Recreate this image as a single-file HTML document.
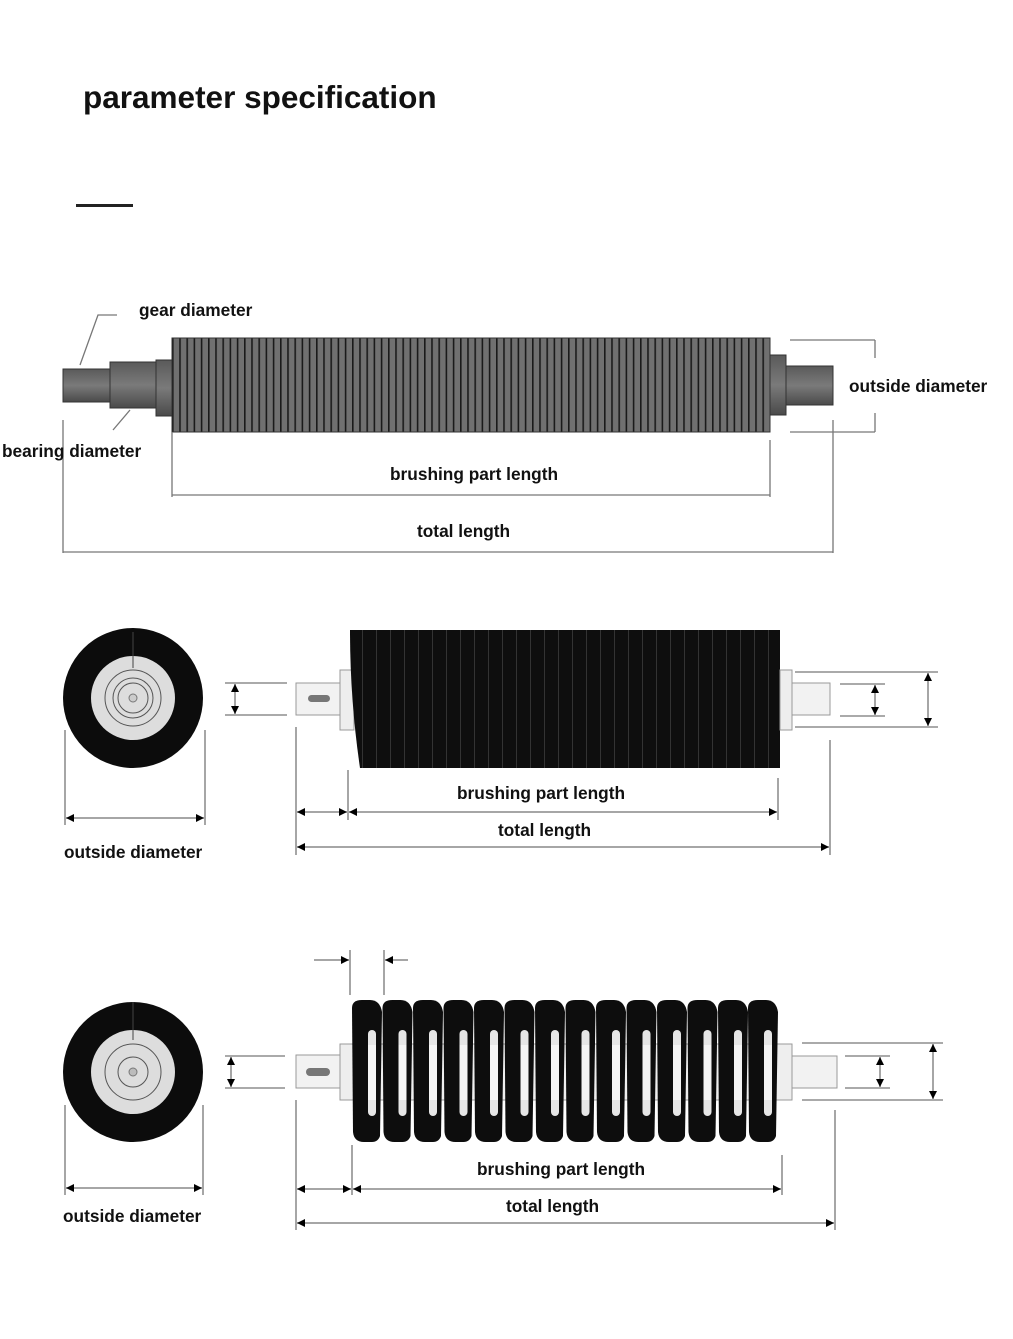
<!DOCTYPE html>
<html><head><meta charset="utf-8"><style>
html,body{margin:0;padding:0;background:#fff}
svg{display:block}
text{font-family:"Liberation Sans",sans-serif;font-weight:bold;fill:#111}
</style></head><body>
<svg width="1013" height="1339" viewBox="0 0 1013 1339" xmlns="http://www.w3.org/2000/svg">
<defs>
<marker id="a" viewBox="0 0 10 10" refX="10" refY="5" markerWidth="10" markerHeight="8" orient="auto-start-reverse" markerUnits="userSpaceOnUse"><path d="M0,0L10,5L0,10z" fill="#000"/></marker>
<pattern id="st" x="172" y="0" width="7.2" height="10" patternUnits="userSpaceOnUse"><rect width="7.2" height="10" fill="#707070"/><rect x="0" width="1.6" height="10" fill="#1a1a1a"/></pattern>
<pattern id="st2" x="348" y="0" width="14" height="10" patternUnits="userSpaceOnUse"><rect width="14" height="10" fill="#0e0e0e"/><rect x="0" width="1" height="10" fill="#333"/></pattern>
<linearGradient id="sh" x1="0" y1="0" x2="0" y2="1"><stop offset="0" stop-color="#5a5a5a"/><stop offset=".5" stop-color="#7a7a7a"/><stop offset="1" stop-color="#4a4a4a"/></linearGradient>
</defs>
<text x="83" y="108" font-size="31.5">parameter specification</text>
<rect x="76" y="204" width="57" height="3" fill="#222"/>

<!-- TOP roller -->
<g stroke="#333" stroke-width="1">
<rect x="63" y="369" width="50" height="33" fill="url(#sh)"/>
<rect x="110" y="362" width="48" height="46" fill="url(#sh)"/>
<rect x="156" y="360" width="16" height="56" fill="url(#sh)"/>
<rect x="172" y="338" width="598" height="94" fill="url(#st)"/>
<rect x="770" y="355" width="16" height="60" fill="url(#sh)"/>
<rect x="786" y="366" width="47" height="39" fill="url(#sh)"/>
</g>
<g stroke="#777" stroke-width="1.3" fill="none">
<path d="M80,365 L98,315 L117,315"/>
<path d="M113,430 L130,410"/>
<line x1="63" y1="420" x2="63" y2="553"/>
<line x1="172" y1="432" x2="172" y2="497"/>
<line x1="770" y1="440" x2="770" y2="497"/>
<line x1="833" y1="420" x2="833" y2="553"/>
<line x1="172" y1="495" x2="770" y2="495"/>
<line x1="63" y1="552" x2="833" y2="552"/>
<line x1="790" y1="340" x2="875" y2="340"/>
<line x1="790" y1="432" x2="875" y2="432"/>
<line x1="875" y1="340" x2="875" y2="358"/>
<line x1="875" y1="413" x2="875" y2="432"/>
</g>
<text x="139" y="316" font-size="17.3">gear diameter</text>
<text x="2" y="457" font-size="17.3">bearing diameter</text>
<text x="849" y="392" font-size="17.3">outside diameter</text>
<text x="390" y="480" font-size="17.3">brushing part length</text>
<text x="417" y="537" font-size="17.3">total length</text>

<!-- MIDDLE -->
<circle cx="133" cy="698" r="70" fill="#0c0c0c"/>
<circle cx="133" cy="698" r="42" fill="#ddd"/>
<g fill="none" stroke="#555" stroke-width="1"><circle cx="133" cy="698" r="28"/><circle cx="133" cy="698" r="20"/><circle cx="133" cy="698" r="15"/></g>
<circle cx="133" cy="698" r="4" fill="#ccc" stroke="#777"/>
<line x1="133" y1="632" x2="133" y2="668" stroke="#444"/>
<rect x="296" y="683" width="48" height="32" fill="#f2f2f2" stroke="#999"/>
<rect x="308" y="695" width="22" height="7" rx="3.5" fill="#777"/>
<rect x="340" y="670" width="14" height="60" fill="#eee" stroke="#999"/>
<path d="M350,630 L780,630 L780,768 L360,768 Q350,700 350,630z" fill="url(#st2)"/>
<rect x="780" y="670" width="12" height="60" fill="#eee" stroke="#999"/>
<rect x="792" y="683" width="38" height="32" fill="#f2f2f2" stroke="#999"/>
<g stroke="#777" stroke-width="1.3" fill="none">
<line x1="225" y1="683" x2="287" y2="683"/><line x1="225" y1="715" x2="287" y2="715"/>
<line x1="840" y1="684" x2="885" y2="684"/><line x1="840" y1="716" x2="885" y2="716"/>
<line x1="795" y1="672" x2="938" y2="672"/><line x1="795" y1="727" x2="938" y2="727"/>
<line x1="296" y1="727" x2="296" y2="855"/>
<line x1="348" y1="770" x2="348" y2="820"/>
<line x1="778" y1="778" x2="778" y2="820"/>
<line x1="830" y1="740" x2="830" y2="855"/>
<line x1="65" y1="730" x2="65" y2="825"/>
<line x1="205" y1="730" x2="205" y2="825"/>
</g>
<g stroke="#888" stroke-width="1.5" marker-start="url(#a)" marker-end="url(#a)">
<line x1="235" y1="684" x2="235" y2="714"/>
<line x1="875" y1="685" x2="875" y2="715"/>
<line x1="928" y1="673" x2="928" y2="726"/>
<line x1="297" y1="812" x2="347" y2="812"/>
<line x1="349" y1="812" x2="777" y2="812"/>
<line x1="297" y1="847" x2="829" y2="847"/>
<line x1="66" y1="818" x2="204" y2="818"/>
</g>
<text x="457" y="799" font-size="17.3">brushing part length</text>
<text x="498" y="836" font-size="17.3">total length</text>
<text x="64" y="858" font-size="17.3">outside diameter</text>

<!-- BOTTOM -->
<circle cx="133" cy="1072" r="70" fill="#0c0c0c"/>
<circle cx="133" cy="1072" r="42" fill="#ddd"/>
<g fill="none" stroke="#555" stroke-width="1"><circle cx="133" cy="1072" r="28"/><circle cx="133" cy="1072" r="15"/></g>
<circle cx="133" cy="1072" r="4" fill="#bbb" stroke="#777"/>
<line x1="133" y1="1002" x2="133" y2="1040" stroke="#444"/>
<rect x="296" y="1055" width="48" height="33" fill="#f2f2f2" stroke="#999"/>
<rect x="306" y="1068" width="24" height="8" rx="4" fill="#777"/>
<rect x="340" y="1044" width="452" height="56" fill="#eee" stroke="#999"/>
<rect x="792" y="1056" width="45" height="32" fill="#f2f2f2" stroke="#999"/>
<g>
<g id="c"><path d="M352,1008 Q352,1000 362,1000 L370,1000 Q380,1000 382,1012 L380,1136 Q378,1142 372,1142 L364,1142 Q354,1142 353,1132z" fill="#0d0d0d"/><rect x="368" y="1030" width="8" height="86" rx="4" fill="#e6e6e6"/><rect x="368" y="1045" width="8" height="55" fill="#f4f4f4"/></g>
<use href="#c" x="30.5"/><use href="#c" x="61"/><use href="#c" x="91.5"/><use href="#c" x="122"/><use href="#c" x="152.5"/><use href="#c" x="183"/><use href="#c" x="213.5"/><use href="#c" x="244"/><use href="#c" x="274.5"/><use href="#c" x="305"/><use href="#c" x="335.5"/><use href="#c" x="366"/><use href="#c" x="396"/>
</g>
<g stroke="#777" stroke-width="1.3" fill="none">
<line x1="350" y1="950" x2="350" y2="995"/><line x1="384" y1="950" x2="384" y2="995"/>
<line x1="225" y1="1056" x2="285" y2="1056"/><line x1="225" y1="1088" x2="285" y2="1088"/>
<line x1="845" y1="1056" x2="890" y2="1056"/><line x1="845" y1="1088" x2="890" y2="1088"/>
<line x1="802" y1="1043" x2="943" y2="1043"/><line x1="802" y1="1100" x2="943" y2="1100"/>
<line x1="296" y1="1100" x2="296" y2="1230"/>
<line x1="352" y1="1145" x2="352" y2="1195"/>
<line x1="782" y1="1155" x2="782" y2="1195"/>
<line x1="835" y1="1110" x2="835" y2="1230"/>
<line x1="65" y1="1105" x2="65" y2="1195"/>
<line x1="203" y1="1105" x2="203" y2="1195"/>
</g>
<g stroke="#888" stroke-width="1.5">
<line x1="314" y1="960" x2="349" y2="960" marker-end="url(#a)"/>
<line x1="408" y1="960" x2="385" y2="960" marker-end="url(#a)"/>
</g>
<g stroke="#888" stroke-width="1.5" marker-start="url(#a)" marker-end="url(#a)">
<line x1="231" y1="1057" x2="231" y2="1087"/>
<line x1="880" y1="1057" x2="880" y2="1087"/>
<line x1="933" y1="1044" x2="933" y2="1099"/>
<line x1="297" y1="1189" x2="351" y2="1189"/>
<line x1="353" y1="1189" x2="781" y2="1189"/>
<line x1="297" y1="1223" x2="834" y2="1223"/>
<line x1="66" y1="1188" x2="202" y2="1188"/>
</g>
<text x="477" y="1175" font-size="17.3">brushing part length</text>
<text x="506" y="1212" font-size="17.3">total length</text>
<text x="63" y="1222" font-size="17.3">outside diameter</text>
</svg>
</body></html>
